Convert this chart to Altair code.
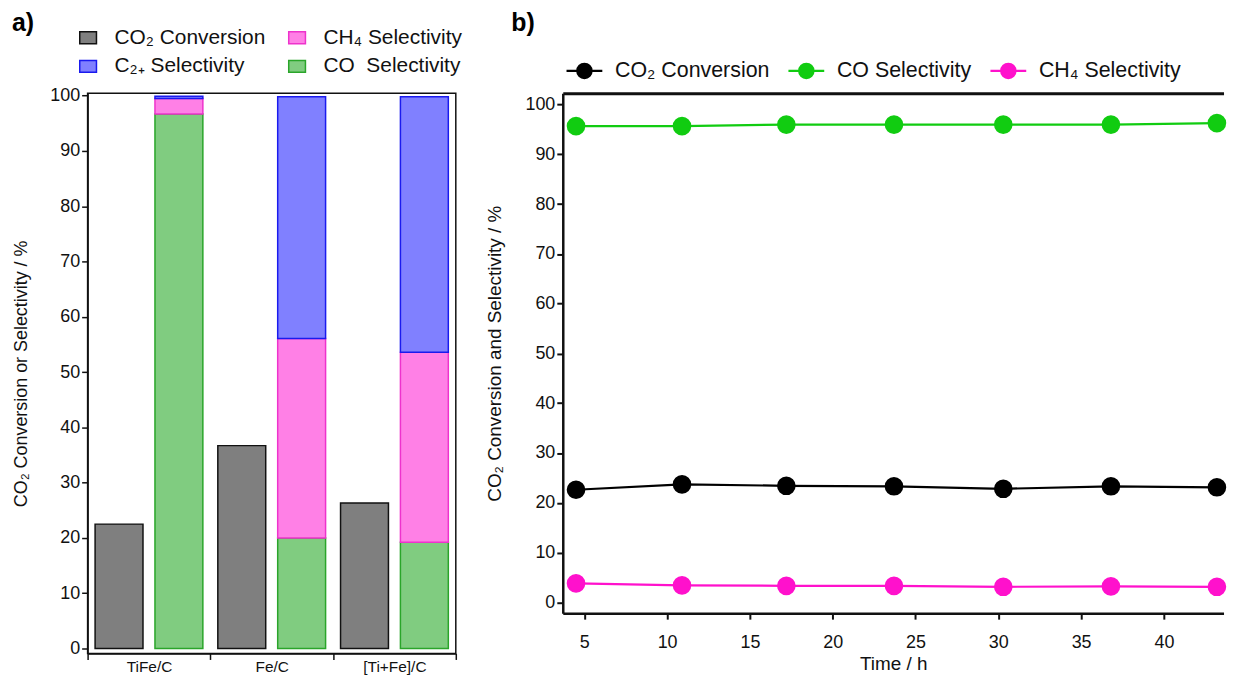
import altair as alt
import pandas as pd

# ---------------- data: panel a ----------------
catalysts = ["TiFe/C", "Fe/C", "[Ti+Fe]/C"]
co2_conversion_a = [22.5, 36.7, 26.3]
co_selectivity_a = [96.7, 20.0, 19.2]
ch4_selectivity_a = [2.8, 36.1, 34.4]
c2_selectivity_a = [0.4, 43.7, 46.2]

# legend order (column-major in a 2-column legend)
series_a = ["CO₂ Conversion", "C₂₊ Selectivity", "CH₄ Selectivity", "CO\u00a0 Selectivity"]
fill_a = ["#7f7f7f", "#8080ff", "#ff80e6", "#80cc80"]
stroke_a = ["#111111", "#1a1aee", "#ee33cc", "#2aa52a"]

# ---------------- data: panel b ----------------
time_h = [4.5, 10.9, 17.2, 23.7, 30.3, 36.8, 43.2]
co2_conversion_b = [22.6, 23.7, 23.4, 23.3, 22.8, 23.3, 23.1]
co_selectivity_b = [95.7, 95.7, 96.0, 96.0, 96.0, 96.0, 96.3]
ch4_selectivity_b = [3.8, 3.4, 3.3, 3.3, 3.1, 3.2, 3.1]

series_b = ["CO₂ Conversion", "CO Selectivity", "CH₄ Selectivity"]
colors_b = ["#000000", "#11cc11", "#ff11cc"]

FONT = "Liberation Sans"

# ---------------- tables ----------------
rows_a = []
for i, cat in enumerate(catalysts):
    rows_a.append({"catalyst": cat, "bar": "conv", "series": series_a[0], "value": co2_conversion_a[i], "ord": 0})
    rows_a.append({"catalyst": cat, "bar": "sel", "series": series_a[3], "value": co_selectivity_a[i], "ord": 1})
    rows_a.append({"catalyst": cat, "bar": "sel", "series": series_a[2], "value": ch4_selectivity_a[i], "ord": 2})
    rows_a.append({"catalyst": cat, "bar": "sel", "series": series_a[1], "value": c2_selectivity_a[i], "ord": 3})
df_a = pd.DataFrame(rows_a)

rows_b = []
for name, vals in zip(series_b, [co2_conversion_b, co_selectivity_b, ch4_selectivity_b]):
    for t, v in zip(time_h, vals):
        rows_b.append({"time": t, "value": v, "series": name})
df_b = pd.DataFrame(rows_b)

# ---------------- panel a ----------------
legend_a = alt.Legend(
    orient="none", legendX=-10, legendY=-66.5, columns=2, title=None,
    labelFontSize=21, labelFont=FONT, labelColor="#111111", labelLimit=400,
    symbolType="M-1.4,-1H1.4V1H-1.4Z", symbolSize=144, symbolStrokeWidth=1.5,
    symbolOpacity=1, labelOffset=16, columnPadding=20, rowPadding=7, padding=0,
)

bars = alt.Chart(df_a).mark_bar(strokeWidth=1.5, opacity=1).encode(
    x=alt.X(
        "catalyst:N", sort=catalysts,
        scale=alt.Scale(paddingInner=0, paddingOuter=0),
        axis=alt.Axis(
            title=None, labelAngle=0, tickBand="extent", tickSize=6, tickWidth=1.5,
            tickColor="#111111", domainColor="#111111", domainWidth=1.5,
            labelFontSize=15.5, labelFont=FONT, labelColor="#111111", labelPadding=0,
        ),
    ),
    xOffset=alt.XOffset("bar:N", sort=["conv", "sel"], scale=alt.Scale(paddingInner=0.2, paddingOuter=0.125)),
    y=alt.Y(
        "value:Q", stack="zero",
        scale=alt.Scale(domain=[-0.9, 100.45], nice=False, zero=False),
        axis=alt.Axis(
            values=list(range(0, 101, 10)), title="CO₂ Conversion or Selectivity / %",
            titleFontSize=18, titleFont=FONT, titleFontWeight="normal", titleColor="#111111",
            titlePadding=19.5, tickSize=6, tickWidth=1.5, tickColor="#111111",
            domainColor="#111111", domainWidth=1.5, labelFontSize=18, labelFont=FONT,
            labelColor="#111111", labelPadding=2, grid=False, labelFlush=False,
        ),
    ),
    fill=alt.Fill("series:N", scale=alt.Scale(domain=series_a, range=fill_a), legend=legend_a),
    stroke=alt.Stroke("series:N", scale=alt.Scale(domain=series_a, range=stroke_a), legend=legend_a),
    order=alt.Order("ord:Q", sort="ascending"),
)

label_a = alt.Chart(pd.DataFrame({"t": ["a)"]})).mark_text(
    fontSize=25, fontWeight="bold", font=FONT, align="center", baseline="middle", color="#000000"
).encode(x=alt.value(-65), y=alt.value(-71), text="t:N")

panel_a = alt.layer(bars, label_a).properties(
    width=370, height=563,
    view=alt.ViewBackground(stroke="#111111", strokeWidth=1.5),
)

# ---------------- panel b ----------------
legend_b = alt.Legend(
    orient="none", legendX=11, legendY=-33.5, direction="horizontal", columns=3, title=None,
    labelFontSize=21.5, labelFont=FONT, labelColor="#111111", labelLimit=400,
    symbolType="M-2.5,0H2.5M-1,0A1,1 0 1,1 1,0A1,1 0 1,1 -1,0Z", symbolSize=207,
    symbolStrokeWidth=2.2, symbolOpacity=1, labelOffset=20, columnPadding=14, padding=0,
)

y_b = alt.Y(
    "value:Q", scale=alt.Scale(domain=[-2.2, 102.3], nice=False, zero=False),
    axis=alt.Axis(
        values=list(range(0, 101, 10)), title="CO₂ Conversion and Selectivity / %",
        titleFontSize=19, titleFont=FONT, titleFontWeight="normal", titleColor="#111111",
        titlePadding=21, tickSize=6, tickWidth=2, tickColor="#111111",
        domainColor="#111111", domainWidth=2.5, labelFontSize=18, labelFont=FONT,
        labelColor="#111111", labelPadding=2, grid=False, labelFlush=False,
    ),
)
x_scale_b = alt.Scale(domain=[3.7, 43.6], nice=False, zero=False)

lines = alt.Chart(df_b).mark_line(strokeWidth=2.2).encode(
    x=alt.X(
        "time:Q", scale=x_scale_b,
        axis=alt.Axis(
            values=[5, 10, 15, 20, 25, 30, 35, 40], title="Time / h",
            titleFontSize=19, titleFont=FONT, titleFontWeight="normal", titleColor="#111111",
            titlePadding=4, tickSize=6, tickWidth=2, tickColor="#111111",
            domainColor="#111111", domainWidth=2.5, labelFontSize=18, labelFont=FONT,
            labelColor="#111111", labelPadding=14, grid=False, labelFlush=False,
        ),
    ),
    y=y_b,
    stroke=alt.Stroke("series:N", scale=alt.Scale(domain=series_b, range=colors_b), legend=legend_b),
)

points = alt.Chart(df_b).mark_point(filled=True, size=280, opacity=1).encode(
    x=alt.X(
        "time:Q", scale=x_scale_b,
        axis=alt.Axis(orient="top", labels=False, ticks=False, title=None, grid=False,
                      domainColor="#111111", domainWidth=3),
    ),
    y=y_b,
    fill=alt.Fill("series:N", scale=alt.Scale(domain=series_b, range=colors_b), legend=legend_b),
    stroke=alt.Stroke("series:N", scale=alt.Scale(domain=series_b, range=colors_b), legend=legend_b),
)

label_b = alt.Chart(pd.DataFrame({"t": ["b)"]})).mark_text(
    fontSize=25, fontWeight="bold", font=FONT, align="center", baseline="middle", color="#000000"
).encode(x=alt.value(-40), y=alt.value(-71), text="t:N")

panel_b = alt.layer(lines, points, label_b).resolve_axis(x="independent").properties(
    width=664, height=522.5,
)

chart = alt.hconcat(panel_a, panel_b, spacing=20.5).resolve_scale(
    fill="independent", stroke="independent"
).resolve_legend(
    fill="independent", stroke="independent"
).properties(
    padding={"left": 3, "top": 0, "right": 0, "bottom": 0},
).configure(
    font=FONT,
).configure_view(
    stroke="transparent",
)

chart.save("out.html", embed_options={"renderer": "svg", "actions": False})
